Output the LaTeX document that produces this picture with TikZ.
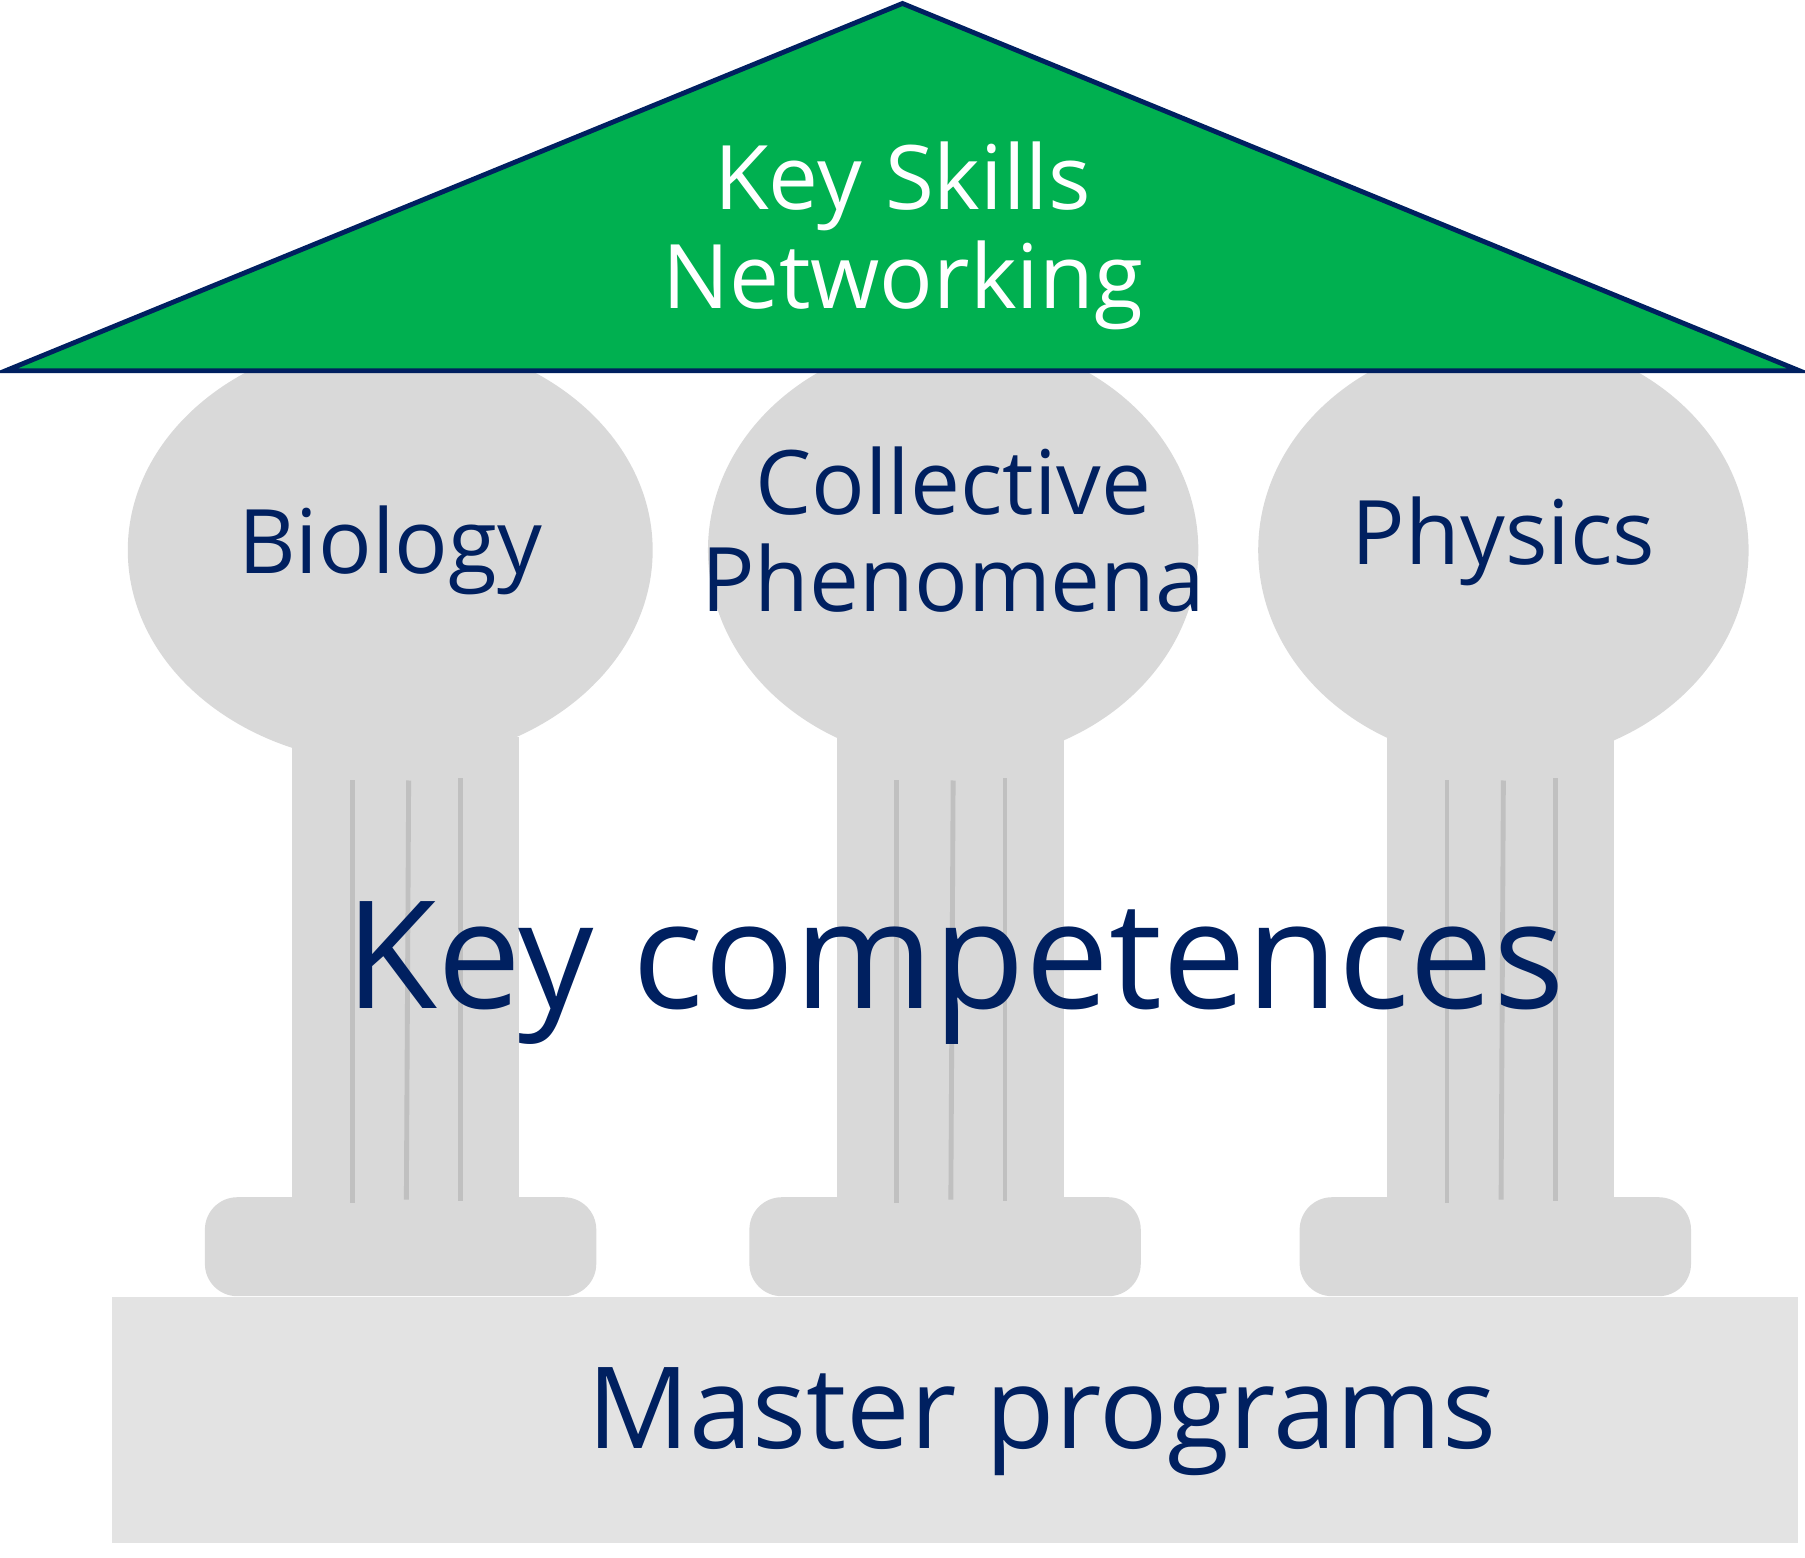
\documentclass[tikz,border=0pt]{standalone}
\usepackage{fontspec}
\setmainfont{Open Sans}
\usetikzlibrary{positioning}
\definecolor{navy}{HTML}{002060}
\definecolor{roofgreen}{HTML}{00B050}
\definecolor{stone}{HTML}{D9D9D9}
\definecolor{basegray}{HTML}{E3E3E3}
\definecolor{flutegray}{HTML}{C0C0C0}
\begin{document}
\begin{tikzpicture}[x=0.01cm, y=-0.01cm]

% Define styles
\tikzset{
  capital/.style={ellipse, fill=stone, inner sep=0pt},
  shaft/.style={fill=stone},
  pedestal/.style={fill=stone, rounded corners=8pt},
  flute/.style={draw=flutegray, line width=1.2pt},
  label/.style={text=navy, align=center, font=\fontsize{22}{24}\selectfont}
}
\usetikzlibrary{shapes.geometric}
\useasboundingbox (0,0) rectangle (1568,1353);

% Base
\fill[basegray] (97,1127) rectangle (1562,1340);
\node[text=navy, font=\fontsize{28}{30}\selectfont] (master) at (905,1235) {Master programs};

% Pillars
\foreach \cx/\sx/\px/\rx/\name in {339/254/178/228/bio, 828/727/651/213/coll, 1306/1205/1129/213/phys} {
  \fill[pedestal] (\px,1040) rectangle ++(340,86);
  \fill[shaft] (\sx,640) rectangle ++(197,401);
  \fill[stone] (\cx,478) ellipse ({\rx} and 185);
  \draw[flute] (\sx+52,678) -- (\sx+52,1045);
  \draw[flute] (\sx+101,678) -- (\sx+99,1042);
  \draw[flute] (\sx+146,676) -- (\sx+146,1043);
}

% Roof
\filldraw[fill=roofgreen, draw=navy, line width=1.2pt] (5,322) -- (784,3) -- (1563,322) -- cycle;
\node[text=white, align=center, font=\fontsize{22}{24.5}\selectfont] (roof) at (784,205) {Key Skills\\Networking};

% Labels
\node[label] (biology) at (339,478) {Biology};
\node[label] (collective) at (828,460) {Collective\\Phenomena};
\node[label] (physics) at (1306,470) {Physics};
\node[text=navy, font=\fontsize{37}{40}\selectfont] (competences) at (830,845) {Key competences};

\end{tikzpicture}
\end{document}
